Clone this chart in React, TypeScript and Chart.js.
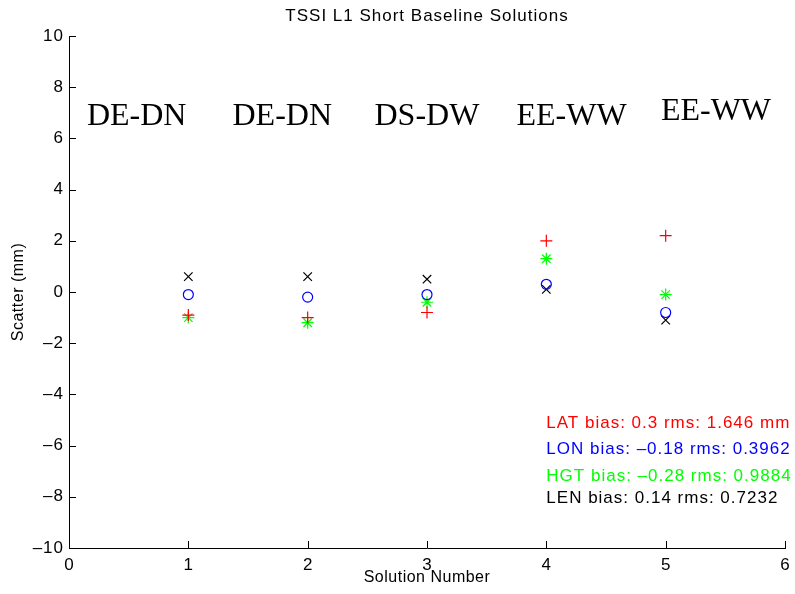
import React, { useEffect, useRef } from "react";
import { Chart, registerables } from "chart.js";

Chart.register(...registerables);

const solutions = [1, 2, 3, 4, 5];
const latValues = [-0.9, -1.0, -0.8, 2.0, 2.2];
const lonValues = [-0.1, -0.2, -0.1, 0.3, -0.8];
const hgtValues = [-1.0, -1.2, -0.4, 1.3, -0.1];
const lenValues = [0.6, 0.6, 0.5, 0.1, -1.1];

const baselineLabels = ["DE-DN", "DE-DN", "DS-DW", "EE-WW", "EE-WW"];
const baselineLabelX = [0.15, 1.37, 2.56, 3.75, 4.96];
const baselineLabelY = [6.85, 6.85, 6.85, 6.85, 7.05];

const statTexts = [
  "LAT bias: 0.3 rms: 1.646 mm",
  "LON bias: \u20130.18 rms: 0.3962",
  "HGT bias: \u20130.28 rms: 0.9884",
  "LEN bias: 0.14 rms: 0.7232",
];
const statColors = ["#ff0000", "#0000ff", "#00ff00", "#000000"];
const statX = [4, 4, 4, 4];
const statY = [-5.12, -6.15, -7.19, -8.05];

const xTicks = [0, 1, 2, 3, 4, 5, 6];
const yTicks = [-10, -8, -6, -4, -2, 0, 2, 4, 6, 8, 10];

const titleText = "TSSI L1 Short Baseline Solutions";
const xTitle = "Solution Number";
const yTitle = "Scatter (mm)";

const SANS = "'Liberation Sans', Arial, Helvetica, sans-serif";
const SERIF = "'Liberation Serif', 'Times New Roman', serif";

const fmt = (v: number) => (v < 0 ? "\u2013" + Math.abs(v) : String(v));

const annotPlugin = {
  id: "annot",
  afterDraw(chart: any) {
    const { ctx, chartArea, scales } = chart;
    const xs = scales.x;
    const ys = scales.y;
    ctx.save();
    // inward ticks
    ctx.strokeStyle = "#000";
    ctx.lineWidth = 1;
    ctx.beginPath();
    xTicks.forEach((t) => {
      const px = Math.round(xs.getPixelForValue(t)) + 0.5;
      ctx.moveTo(px, chartArea.bottom);
      ctx.lineTo(px, chartArea.bottom - 7);
    });
    yTicks.forEach((t) => {
      const py = Math.round(ys.getPixelForValue(t)) + 0.5;
      ctx.moveTo(chartArea.left, py);
      ctx.lineTo(chartArea.left + 7, py);
    });
    ctx.stroke();

    ctx.fillStyle = "#000";
    (ctx as any).letterSpacing = "1px";
    // tick labels
    ctx.font = `17px ${SANS}`;
    ctx.textAlign = "center";
    ctx.textBaseline = "middle";
    xTicks.forEach((t) => {
      ctx.fillText(fmt(t), xs.getPixelForValue(t) + 0.5, chartArea.bottom + 17);
    });
    ctx.textAlign = "right";
    yTicks.forEach((t) => {
      ctx.fillText(fmt(t), chartArea.left - 5, ys.getPixelForValue(t));
    });

    // title
    ctx.textAlign = "center";
    ctx.font = `17px ${SANS}`;
    ctx.fillText(titleText, (chartArea.left + chartArea.right) / 2, 16);
    // x title
    (ctx as any).letterSpacing = "0.5px";
    ctx.font = `16px ${SANS}`;
    ctx.fillText(xTitle, (chartArea.left + chartArea.right) / 2, 578);
    // y title
    ctx.save();
    ctx.translate(19, (chartArea.top + chartArea.bottom) / 2);
    ctx.rotate(-Math.PI / 2);
    ctx.fillText(yTitle, 0, 0);
    ctx.restore();

    // baseline labels
    (ctx as any).letterSpacing = "0px";
    ctx.font = `32px ${SERIF}`;
    ctx.textAlign = "left";
    ctx.textBaseline = "middle";
    baselineLabels.forEach((lab, i) => {
      ctx.fillText(lab, xs.getPixelForValue(baselineLabelX[i]), ys.getPixelForValue(baselineLabelY[i]));
    });

    // stats
    (ctx as any).letterSpacing = "1px";
    ctx.font = `17px ${SANS}`;
    statTexts.forEach((s, i) => {
      ctx.fillStyle = statColors[i];
      ctx.fillText(s, xs.getPixelForValue(statX[i]), ys.getPixelForValue(statY[i]));
    });
    ctx.restore();
  },
};

function toPts(vals: number[]) {
  return solutions.map((s, i) => ({ x: s, y: vals[i] }));
}

export default function App() {
  const ref = useRef<HTMLCanvasElement>(null);
  useEffect(() => {
    document.body.style.margin = "0";
    const chart = new Chart(ref.current!, {
      type: "scatter",
      data: {
        datasets: [
          { label: "LAT", data: toPts(latValues), pointStyle: "cross", borderColor: "#ff0000", backgroundColor: "#ff0000", pointRadius: 6, pointBorderWidth: 1.2 },
          { label: "LON", data: toPts(lonValues), pointStyle: "circle", borderColor: "#0000ff", backgroundColor: "rgba(0,0,0,0)", pointRadius: 5, pointBorderWidth: 1.2 },
          { label: "HGT", data: toPts(hgtValues), pointStyle: "star", borderColor: "#00ff00", backgroundColor: "#00ff00", pointRadius: 6, pointBorderWidth: 1.2 },
          { label: "LEN", data: toPts(lenValues), pointStyle: "crossRot", borderColor: "#000000", backgroundColor: "#000000", pointRadius: 6, pointBorderWidth: 1.2 },
        ] as any,
      },
      options: {
        animation: false,
        responsive: false,
        events: [],
        layout: { padding: { left: 0, top: 36, right: 10, bottom: 0 } },
        plugins: { legend: { display: false }, tooltip: { enabled: false }, title: { display: false } },
        scales: {
          x: {
            type: "linear",
            min: 0,
            max: 6,
            afterFit: (s: any) => { s.height = 46; },
            grid: { display: true, drawOnChartArea: false, drawTicks: false },
            border: { display: true, color: "#000", width: 1 },
            ticks: { stepSize: 1, autoSkip: false, display: false },
          },
          y: {
            type: "linear",
            min: -10,
            max: 10,
            afterFit: (s: any) => { s.width = 69; },
            grid: { display: true, drawOnChartArea: false, drawTicks: false },
            border: { display: true, color: "#000", width: 1 },
            ticks: { stepSize: 2, autoSkip: false, display: false },
          },
        },
      },
      plugins: [annotPlugin],
    });
    return () => chart.destroy();
  }, []);
  return (
    <div style={{ width: 795, height: 594, background: "#fff" }}>
      <canvas ref={ref} width={795} height={594} style={{ display: "block" }} />
    </div>
  );
}
